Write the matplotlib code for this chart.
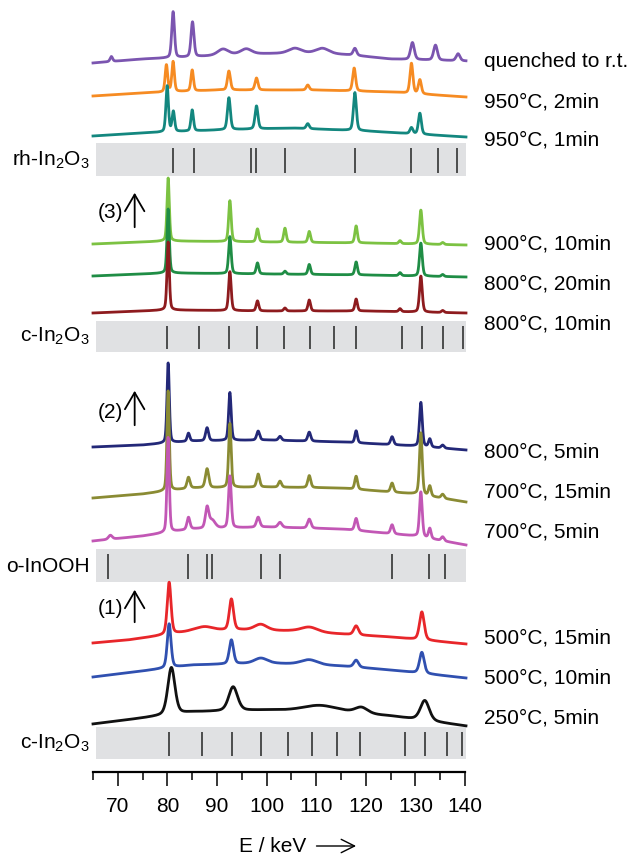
import numpy as np
import matplotlib.pyplot as plt

plt.rcParams['font.family'] = ['Liberation Sans', 'DejaVu Sans']
plt.rcParams['mathtext.fontset'] = 'custom'
plt.rcParams['mathtext.rm'] = 'Liberation Sans'
plt.rcParams['mathtext.default'] = 'regular'

# ------------------------------------------------------------------
# Reference reflection positions (keV)
# ------------------------------------------------------------------
rh_in2o3 = [81.15, 85.3, 96.8, 97.96, 103.7, 117.8, 129.1, 134.5, 138.3]
c_in2o3_hot = [79.94, 86.33, 92.44, 98.09, 103.47, 108.65, 113.6, 118.05,
               127.2, 131.4, 135.5, 139.5]
o_inooh = [68.04, 84.25, 88.0, 88.95, 98.8, 102.7, 125.2, 132.8, 135.9]
c_in2o3_rt = [80.3, 86.9, 93.1, 98.8, 104.3, 109.1, 114.2, 118.8,
              127.9, 132.0, 136.3, 139.3]

# ------------------------------------------------------------------
# Patterns: baseline (keV, intensity) and peaks (keV, height, fwhm)
# ------------------------------------------------------------------
quenched_base = [(65, 709), (75, 713), (85, 715), (95, 718), (110, 719),
                 (117, 717), (125, 713), (140.2, 711)]
quenched_peaks = [(68.7, 5, 0.6), (81.15, 46, 0.65), (85.06, 35, 0.7),
                  (91.2, 6, 2.5), (95.9, 5, 2.5), (105.7, 5, 3), (111.3, 5, 3),
                  (117.8, 7, 0.8), (129.4, 17, 0.9), (134.05, 15, 0.9),
                  (138.6, 7, 0.9)]

t950_2_base = [(65, 676), (75, 679), (90, 682), (110, 682), (125, 680), (140.2, 675)]
t950_2_peaks = [(79.8, 27, 0.6), (81.15, 30, 0.6), (85.0, 21, 0.6), (92.4, 19, 0.7),
                (97.96, 12, 0.7), (108.3, 5, 0.7), (117.65, 23, 0.7),
                (129.2, 30, 0.7), (130.9, 14, 0.7)]

t950_1_base = [(65, 636), (75, 639), (90, 642), (105, 644), (120, 641), (140.2, 635)]
t950_1_peaks = [(79.95, 46, 0.6), (81.2, 20, 0.6), (85.0, 21, 0.6), (92.4, 32, 0.7),
                (97.96, 23, 0.7), (108.3, 5, 0.7), (117.8, 38, 0.7),
                (129.2, 6, 0.7), (130.9, 21, 0.7)]

t900_10_base = [(65, 528), (80, 531), (100, 530), (120, 529), (140.2, 527)]
t900_10_peaks = [(80.15, 63, 0.55), (92.6, 41, 0.6), (98.16, 13, 0.6),
                 (103.7, 14, 0.6), (108.6, 11, 0.6), (118.05, 17, 0.6),
                 (126.9, 3, 0.6), (131.1, 34, 0.65), (135.5, 2, 0.6)]

t800_20_base = [(65, 496), (80, 499), (100, 498), (120, 497), (140.2, 495)]
t800_20_peaks = [(80.15, 64, 0.55), (92.6, 37, 0.6), (98.16, 11, 0.6),
                 (103.7, 3, 0.6), (108.6, 10, 0.6), (118.05, 13, 0.6),
                 (126.9, 3, 0.6), (131.1, 33, 0.65), (135.5, 2, 0.6)]

t800_10_base = [(65, 459), (80, 462), (100, 461), (120, 461), (140.2, 459)]
t800_10_peaks = [(80.15, 68, 0.55), (92.6, 39, 0.6), (98.16, 10, 0.6),
                 (103.7, 3, 0.6), (108.6, 11, 0.6), (118.05, 12, 0.6),
                 (126.9, 3, 0.6), (131.1, 36, 0.65), (135.5, 2, 0.6)]

t800_5_base = [(65, 325), (75, 327), (85, 331), (100, 332), (115, 330),
               (130, 326), (140.2, 322)]
t800_5_peaks = [(80.15, 80, 0.55), (84.25, 8, 0.6), (88.0, 13, 0.7), (92.6, 48, 0.6),
                (98.3, 9, 0.7), (102.7, 4, 0.7), (108.6, 9, 0.7), (118.05, 12, 0.6),
                (125.3, 8, 0.7), (131.1, 44, 0.65), (132.9, 8, 0.6), (135.5, 3, 0.7)]

t700_15_base = [(65, 274), (75, 278), (85, 284), (100, 285), (115, 284),
                (130, 278), (140.2, 270)]
t700_15_peaks = [(80.15, 100, 0.55), (84.25, 11, 0.7), (88.0, 19, 0.8),
                 (92.6, 64, 0.6), (98.3, 13, 0.7), (102.7, 6, 0.7), (108.6, 12, 0.7),
                 (118.05, 13, 0.65), (125.3, 9, 0.7), (131.1, 62, 0.65),
                 (132.9, 10, 0.6), (135.5, 4, 0.7)]

t700_5_base = [(65, 231), (75, 236), (85, 243), (100, 245), (115, 243),
               (130, 236), (140.2, 227)]
t700_5_peaks = [(68.5, 4, 0.9), (80.15, 95, 0.55), (84.25, 12, 0.7), (88.0, 20, 0.8),
                (89.0, 8, 1.5), (92.6, 52, 0.65), (98.3, 10, 0.8), (102.7, 5, 0.9),
                (108.6, 9, 0.8), (118.05, 12, 0.7), (125.3, 9, 0.7),
                (131.1, 45, 0.65), (132.9, 10, 0.6), (135.5, 4, 0.7)]

t500_15_base = [(65, 129), (72, 132), (78, 136), (85, 141), (95, 142), (105, 141),
                (115, 138), (125, 135), (140.2, 128)]
t500_15_peaks = [(80.35, 52, 0.9), (87.5, 4, 4), (92.9, 31, 1.0), (98.8, 6, 3),
                 (108.6, 5, 4), (118.05, 9, 1.1), (131.3, 28, 1.1)]

t500_10_base = [(65, 95), (75, 101), (85, 107), (100, 109), (115, 106),
                (125, 102), (140.2, 94)]
t500_10_peaks = [(80.35, 44, 0.9), (92.9, 24, 1.0), (98.8, 5, 3), (108.6, 5, 4),
                 (118.05, 7, 1.1), (131.3, 21, 1.1)]

t250_5_base = [(65, 48), (75, 54), (85, 60), (100, 62), (115, 60), (125, 56),
               (140.2, 46)]
t250_5_peaks = [(80.8, 47, 1.7), (93.25, 24, 2.1), (110.7, 6, 8), (119.1, 6, 3),
                (131.9, 20, 2.1)]

# top to bottom
labels = ['quenched to r.t.', '950°C, 2min', '950°C, 1min',
          '900°C, 10min', '800°C, 20min', '800°C, 10min',
          '800°C, 5min', '700°C, 15min', '700°C, 5min',
          '500°C, 15min', '500°C, 10min', '250°C, 5min']
bases = [quenched_base, t950_2_base, t950_1_base,
         t900_10_base, t800_20_base, t800_10_base,
         t800_5_base, t700_15_base, t700_5_base,
         t500_15_base, t500_10_base, t250_5_base]
peaks = [quenched_peaks, t950_2_peaks, t950_1_peaks,
         t900_10_peaks, t800_20_peaks, t800_10_peaks,
         t800_5_peaks, t700_15_peaks, t700_5_peaks,
         t500_15_peaks, t500_10_peaks, t250_5_peaks]
colors = ['#7b55b0', '#f68b22', '#13877f',
          '#7cc242', '#1f8d45', '#8e1b1e',
          '#232878', '#8a8b33', '#c257b5',
          '#e8262a', '#3050b0', '#111111']
label_y = [705, 665, 626, 522, 482, 442, 315, 274, 234, 129, 88, 48]

# reference stick panels
ref_names = ['rh-In$_2$O$_3$', 'c-In$_2$O$_3$', 'o-InOOH', 'c-In$_2$O$_3$']
ref_lines = [rh_in2o3, c_in2o3_hot, o_inooh, c_in2o3_rt]
ref_boxes = [(596, 629), (420, 451), (190, 223), (13, 45)]
ref_label_y = [606, 430, 200, 23]

energy = np.linspace(65.0, 140.2, 4000)


def pseudo_voigt(x, c, fwhm, eta=0.35):
    g = np.exp(-4 * np.log(2) * ((x - c) / fwhm) ** 2)
    l = 1 / (1 + 4 * ((x - c) / fwhm) ** 2)
    return eta * l + (1 - eta) * g


def pattern(base, pk):
    bx, by = zip(*base)
    y = np.interp(energy, bx, by)
    for c, a, w in pk:
        y = y + a * pseudo_voigt(energy, c, w)
    return y


fig = plt.figure(figsize=(6.3, 8.58), dpi=100)
ax = fig.add_axes([93 / 630, 86 / 858, 372 / 630, 772 / 858])
ax.set_xlim(65, 140)
ax.set_ylim(0, 772)

# reference panels
for name, lines, (b0, b1), ly in zip(ref_names, ref_lines, ref_boxes, ref_label_y):
    ax.fill_between([65.6, 140.3], b0, b1, color='#e0e1e3', lw=0, clip_on=False)
    ax.vlines(lines, b0 + 3, b1 - 5, color='#333333', lw=1.2, clip_on=False)
    ax.text(64.35, ly, name, ha='right', va='baseline', fontsize=15)

# patterns (upper ones drawn first)
for lab, base, pk, col, ly in zip(labels, bases, peaks, colors, label_y):
    ax.plot(energy, pattern(base, pk), color=col, lw=2.0, clip_on=False)
    ax.text(143.8, ly, lab, ha='left', va='baseline', fontsize=15)

# arrows (1), (2), (3)
for txt, ty, y0, y1 in [('(3)', 559, 542, 582), ('(2)', 360, 344, 384),
                        ('(1)', 164, 147, 185)]:
    ax.text(68.6, ty, txt, ha='center', va='center', fontsize=15)
    ax.annotate('', xy=(73.4, y1), xytext=(73.4, y0),
                arrowprops=dict(arrowstyle='->,head_length=0.6,head_width=0.35',
                                lw=1.3, color='black', mutation_scale=20))

# x axis
for s in ['left', 'right', 'top']:
    ax.spines[s].set_visible(False)
ax.spines['bottom'].set_linewidth(1.6)
ax.set_yticks([])
ax.set_xticks(np.arange(70, 141, 10))
ax.set_xticks(np.arange(65, 140, 10), minor=True)
ax.tick_params(axis='x', which='major', direction='out', length=10, width=1.1,
               labelsize=15, pad=8)
ax.tick_params(axis='x', which='minor', direction='out', length=6, width=1.1)

ax.text(94.5, -75, 'E / keV', ha='left', va='center', fontsize=15)
ax.annotate('', xy=(118.6, -74), xytext=(109.5, -74), annotation_clip=False,
            arrowprops=dict(arrowstyle='->,head_length=0.6,head_width=0.3',
                            lw=1.0, color='black', mutation_scale=16))

fig.savefig('out.png', dpi=100)
